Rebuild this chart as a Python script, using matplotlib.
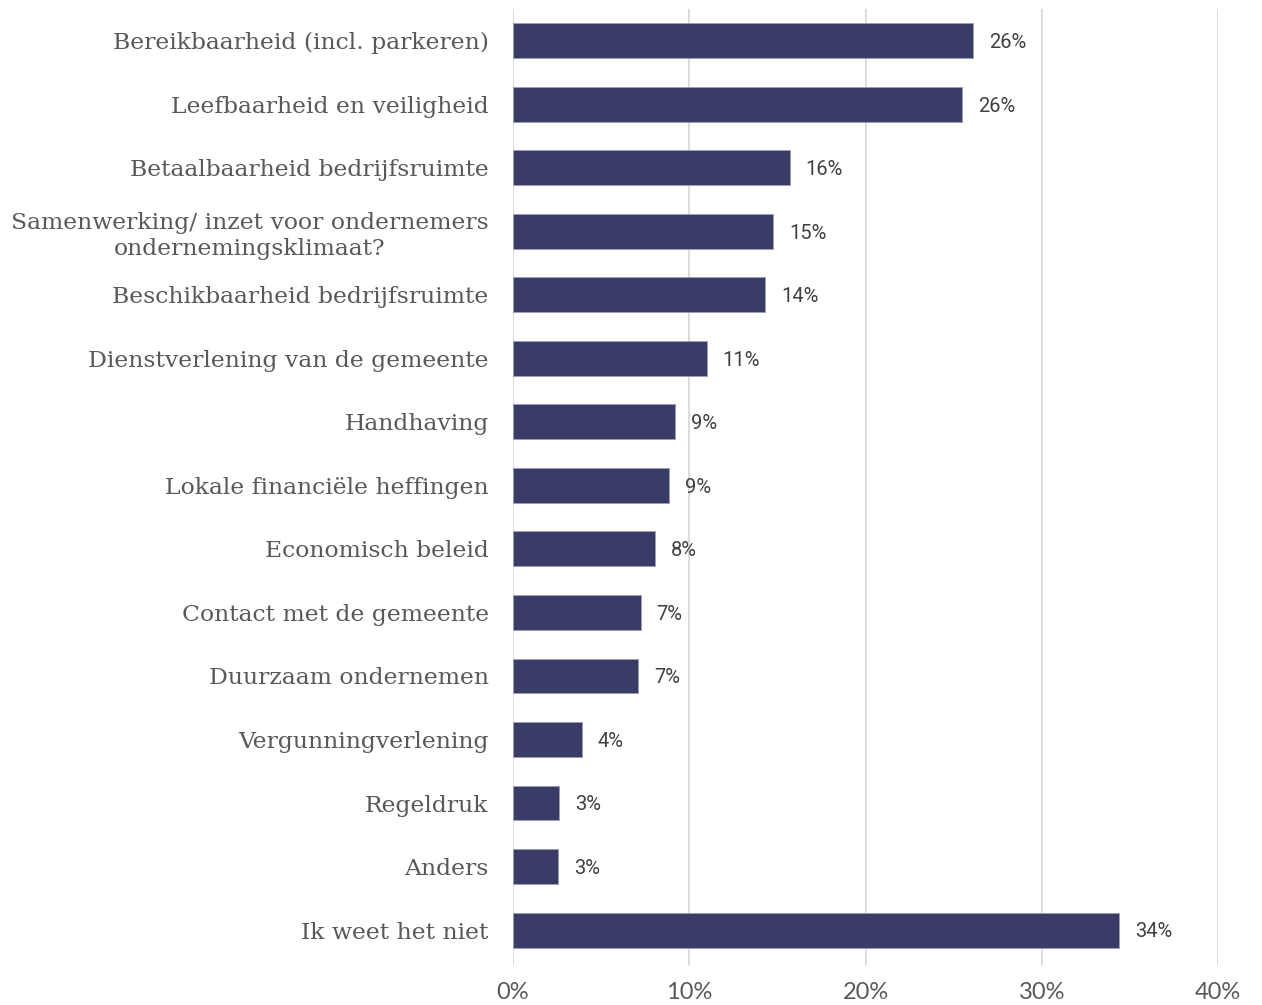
import matplotlib
matplotlib.use("Agg")
import matplotlib.pyplot as plt

categories = [
    "Bereikbaarheid (incl. parkeren)",
    "Leefbaarheid en veiligheid",
    "Betaalbaarheid bedrijfsruimte",
    "Samenwerking/ inzet voor ondernemers\nondernemingsklimaat?",
    "Beschikbaarheid bedrijfsruimte",
    "Dienstverlening van de gemeente",
    "Handhaving",
    "Lokale financiële heffingen",
    "Economisch beleid",
    "Contact met de gemeente",
    "Duurzaam ondernemen",
    "Vergunningverlening",
    "Regeldruk",
    "Anders",
    "Ik weet het niet",
]
values = [26.1, 25.5, 15.7, 14.75, 14.3, 11.0, 9.2, 8.85, 8.05, 7.25, 7.1, 3.9, 2.6, 2.55, 34.4]
value_labels = ["26%", "26%", "16%", "15%", "14%", "11%", "9%", "9%", "8%", "7%", "7%", "4%", "3%", "3%", "34%"]
xticks = [0, 10, 20, 30, 40]
xtick_labels = ["0%", "10%", "20%", "30%", "40%"]

W, H = 1262, 1005
fig = plt.figure(figsize=(W / 100, H / 100), dpi=100)
ax = fig.add_axes([513 / W, 1 - 965 / H, (1218 - 513) / W, (965 - 9) / H])

y = list(range(len(categories)))
ax.barh(y, values, height=0.55, color="#383c66", edgecolor="#9a9cbb", linewidth=0.7, zorder=3)

for yi, v, lab in zip(y, values, value_labels):
    ax.text(v + 0.9, yi + 0.03, lab, va="center", ha="left", fontsize=14.5,
            family="Roboto", color="#404040")

ax.set_xlim(0, 40)
ax.set_ylim(14.55, -0.5)
ax.set_xticks(xticks)
ax.set_xticklabels(xtick_labels, fontsize=17, family="Lato", color="#595959")
ax.set_yticks(y)
ax.set_yticklabels(categories, fontsize=16.9, family="DejaVu Serif", color="#595959",
                   linespacing=1.25)
for t in ax.get_yticklabels():
    t.set_multialignment("center")
ax.tick_params(axis="both", length=0)
ax.tick_params(axis="y", pad=17.5)
ax.tick_params(axis="x", pad=12)
for s in ax.spines.values():
    s.set_visible(False)
ax.grid(axis="x", color="#d9d9d9", linewidth=1.3, zorder=0)
ax.set_axisbelow(True)

fig.savefig("out.png", dpi=100, facecolor="white")
